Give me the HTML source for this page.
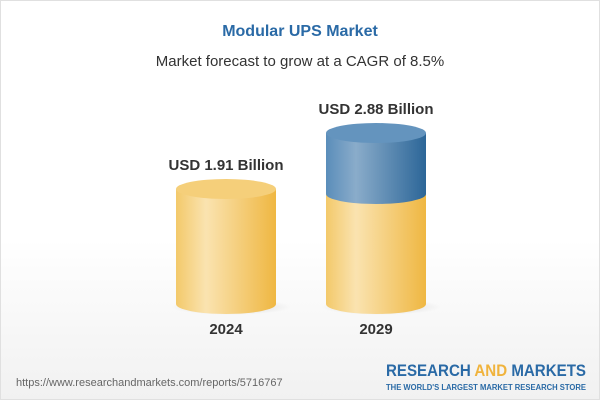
<!DOCTYPE html>
<html><head><style>
body{margin:0;}
.c{width:600px;height:400px;position:relative;overflow:hidden;background:linear-gradient(#ffffff 0%,#ffffff 60%,#f1f1f1 100%);font-family:"Liberation Sans",sans-serif;border:1px solid #e0e0e0;box-sizing:border-box}
.t{position:absolute;width:100%;text-align:center}
</style></head><body><div class="c">
<div class="t" style="top:22px;font-size:16px;font-weight:bold;color:#2a6aa6">Modular UPS Market</div>
<div class="t" style="top:52px;font-size:15px;color:#333">Market forecast to grow at a CAGR of 8.5%</div>
<svg width="600" height="400" style="position:absolute;left:0;top:0">
<defs>
<linearGradient id="y" x1="0" x2="1"><stop offset="0" stop-color="#f3c96a"/><stop offset="0.3" stop-color="#fae3b0"/><stop offset="1" stop-color="#efb742"/></linearGradient>
<linearGradient id="b" x1="0" x2="1"><stop offset="0" stop-color="#5a8dba"/><stop offset="0.3" stop-color="#8aacca"/><stop offset="1" stop-color="#2c6698"/></linearGradient>
<radialGradient id="s"><stop offset="0" stop-color="#000" stop-opacity="0.15"/><stop offset="1" stop-color="#000" stop-opacity="0"/></radialGradient>
</defs>
<ellipse cx="230" cy="306" rx="60" ry="8" fill="url(#s)"/>
<ellipse cx="380" cy="306" rx="60" ry="8" fill="url(#s)"/>
<path d="M175 188 V303 A50 10 0 0 0 275 303 V188 Z" fill="url(#y)"/>
<ellipse cx="225" cy="188" rx="50" ry="10" fill="#f5cf7a"/>
<path d="M325 193 V303 A50 10 0 0 0 425 303 V193 Z" fill="url(#y)"/>
<path d="M325 132 V193 A50 10 0 0 0 425 193 V132 Z" fill="url(#b)"/>
<ellipse cx="375" cy="132" rx="50" ry="10" fill="#6494be"/>
<g font-family="Liberation Sans" font-weight="bold" fill="#333" text-anchor="middle">
<text x="225" y="169" font-size="15">USD 1.91 Billion</text>
<text x="375" y="113" font-size="15">USD 2.88 Billion</text>
<text x="225" y="333" font-size="15">2024</text>
<text x="375" y="333" font-size="15">2029</text>
</g>
<text x="15" y="385" font-family="Liberation Sans" font-size="11" fill="#666">https://www.researchandmarkets.com/reports/5716767</text>
<text x="385" y="375" font-family="Liberation Sans" font-weight="bold" font-size="17" fill="#2a6aa6" textLength="200" lengthAdjust="spacingAndGlyphs">RESEARCH <tspan fill="#f0b33c">AND</tspan> MARKETS</text>
<text x="385" y="389" font-family="Liberation Sans" font-weight="bold" font-size="8" fill="#2a6aa6" textLength="200" lengthAdjust="spacingAndGlyphs">THE WORLD'S LARGEST MARKET RESEARCH STORE</text>
</svg>
</div></body></html>
